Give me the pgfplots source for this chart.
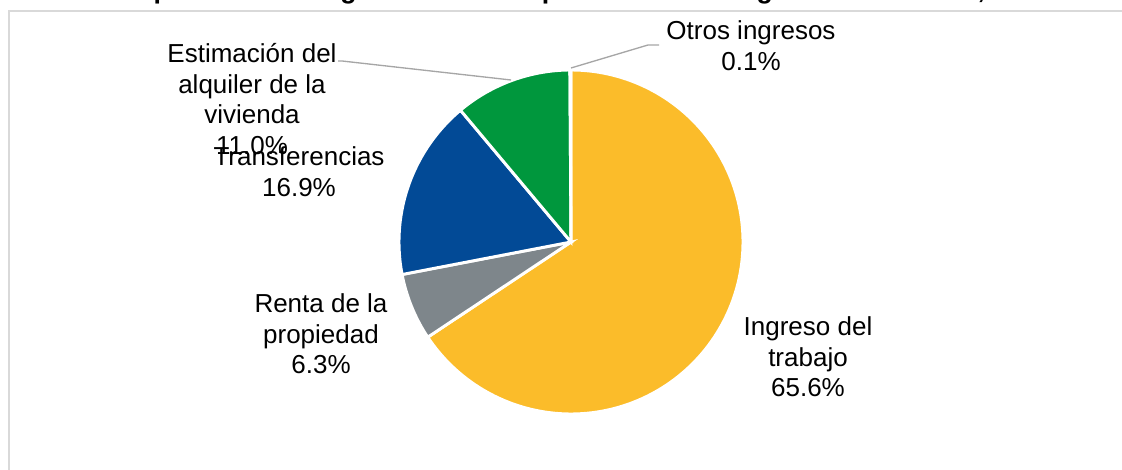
\documentclass[border=0pt]{standalone}
\usepackage{pgfplots}
\pgfplotsset{compat=1.18}
\usepackage{fontspec}
\setmainfont{Liberation Sans}

\definecolor{cTrab}{RGB}{251,188,42}
\definecolor{cRenta}{RGB}{126,134,139}
\definecolor{cTransf}{RGB}{2,74,150}
\definecolor{cEstim}{RGB}{0,151,61}
\definecolor{cOtros}{RGB}{237,125,49}
\definecolor{cLead}{RGB}{166,166,166}
\definecolor{cFrame}{RGB}{217,217,217}

% shares (%), clockwise from 12 o'clock
\def\vTrab{65.6}
\def\vRenta{6.3}
\def\vTransf{16.9}
\def\vEstim{11.0}
\def\vOtros{0.1}

\begin{document}
\begin{tikzpicture}
\pgfmathsetmacro{\tot}{\vTrab+\vRenta+\vTransf+\vEstim+\vOtros}
\pgfmathsetmacro{\aA}{90}
\pgfmathsetmacro{\aB}{\aA-\vTrab/\tot*360}
\pgfmathsetmacro{\aC}{\aB-\vRenta/\tot*360}
\pgfmathsetmacro{\aD}{\aC-\vTransf/\tot*360}
\pgfmathsetmacro{\aE}{\aD-\vEstim/\tot*360}
\pgfmathsetmacro{\aF}{\aE-\vOtros/\tot*360}
\def\cx{571}
\def\cy{228}
\def\rr{172}
\begin{axis}[
  width=841.5pt, height=352.5pt, scale only axis,
  xmin=0, xmax=1122, ymin=0, ymax=470,
  hide axis, clip=false,
]
% sectors
\addplot[fill=cTrab, draw=white, line width=2.2pt, domain=\aB:\aA, samples=150]
  ({\cx+\rr*cos(x)},{\cy+\rr*sin(x)}) -- (\cx,\cy) -- cycle;
\addplot[fill=cRenta, draw=white, line width=2.2pt, domain=\aC:\aB, samples=40]
  ({\cx+\rr*cos(x)},{\cy+\rr*sin(x)}) -- (\cx,\cy) -- cycle;
\addplot[fill=cTransf, draw=white, line width=2.2pt, domain=\aD:\aC, samples=60]
  ({\cx+\rr*cos(x)},{\cy+\rr*sin(x)}) -- (\cx,\cy) -- cycle;
\addplot[fill=cEstim, draw=white, line width=2.2pt, domain=\aE:\aD, samples=50]
  ({\cx+\rr*cos(x)},{\cy+\rr*sin(x)}) -- (\cx,\cy) -- cycle;
\addplot[fill=cOtros, draw=white, line width=2.2pt, domain=\aF:\aE, samples=3]
  ({\cx+\rr*cos(x)},{\cy+\rr*sin(x)}) -- (\cx,\cy) -- cycle;

% frame
\draw[cFrame, line width=1.4pt] (9,-5) -- (9,459) -- (1130,459);

% leader lines
\draw[cLead, line width=1pt] (571,402) -- (648,425) -- (659,425);
\draw[cLead, line width=1pt] (511,390) -- (342,409) -- (338,409);

% title (clipped by page top)
\node[anchor=base, font=\bfseries\fontsize{20pt}{24pt}\selectfont] at (573,471)
  {Composición del ingreso corriente por fuentes de ingreso en Yucatán, 2018};

% labels
\tikzset{lbl/.style={align=center, font=\fontsize{19.5pt}{23pt}\selectfont, inner sep=0pt}}
\node[lbl] at (751,424) {Otros ingresos\\0.1\%};
\node[lbl] at (252,371) {Estimación del\\alquiler de la\\vivienda\\11.0\%};
\node[lbl] at (299,298) {Transferencias\\16.9\%};
\node[lbl] at (321,136) {Renta de la\\propiedad\\6.3\%};
\node[lbl] at (808,113) {Ingreso del\\trabajo\\65.6\%};
\end{axis}
\pgfresetboundingbox
\path[use as bounding box] (current axis.south west) rectangle (current axis.north east);
\end{tikzpicture}
\end{document}
